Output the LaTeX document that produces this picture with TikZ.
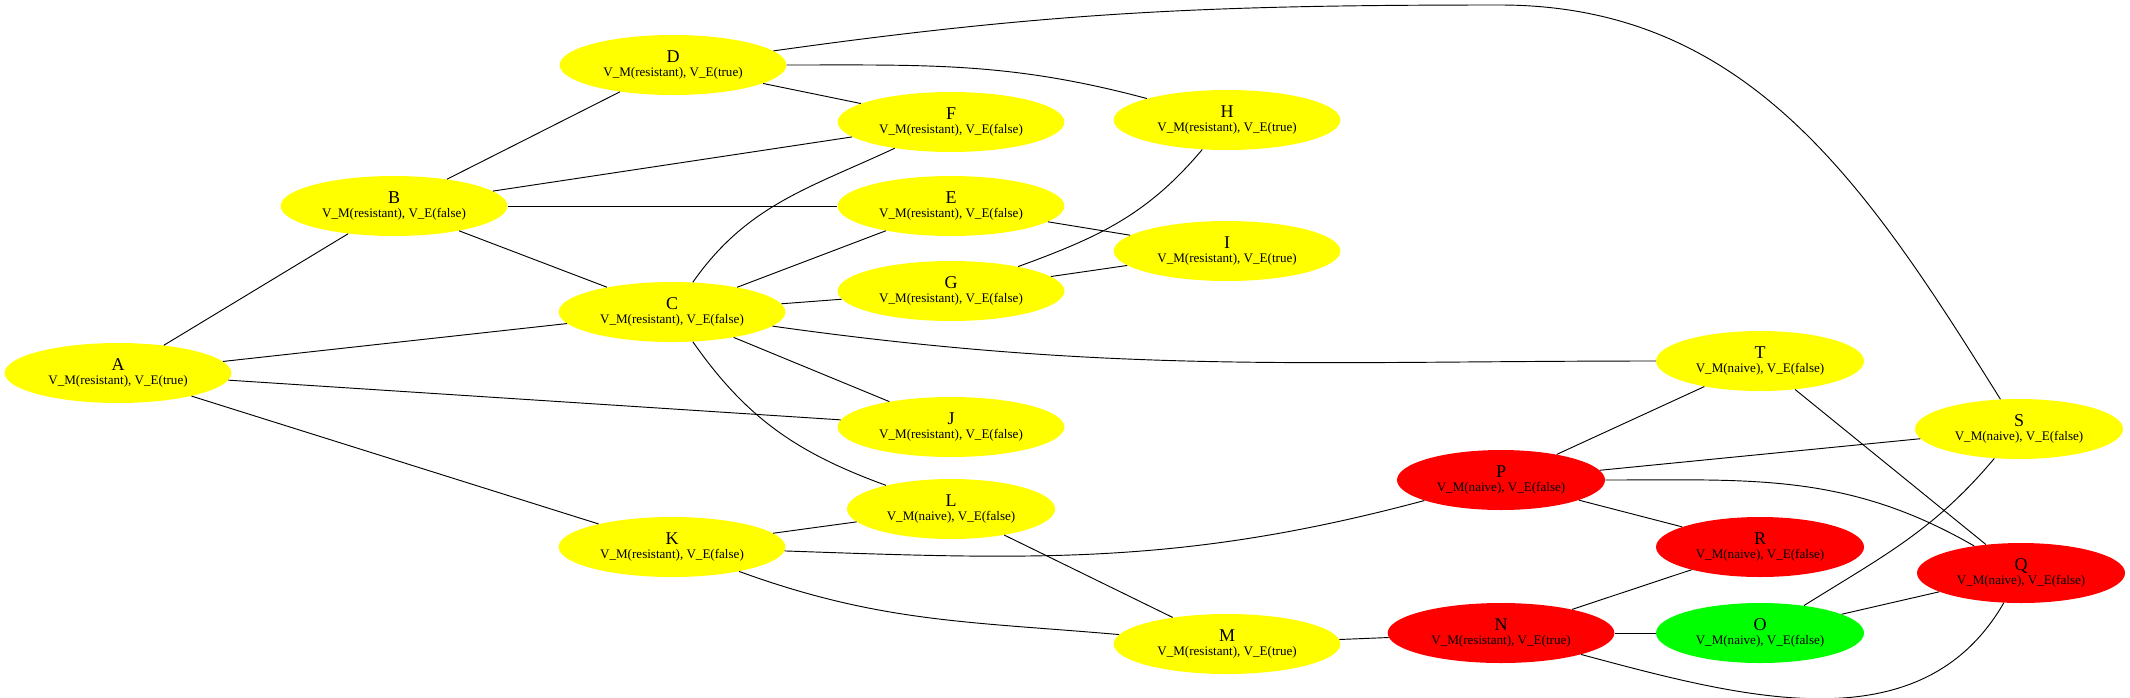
\documentclass[tikz,border=0pt]{standalone}
\usepackage{fontspec}
\setmainfont{Liberation Serif}
\usetikzlibrary{shapes.geometric}
\definecolor{gvyellow}{RGB}{255,255,0}
\definecolor{gvred}{RGB}{255,0,0}
\definecolor{gvgreen}{RGB}{0,255,0}
\newcommand{\statelbl}[3]{{\fontsize{13.5}{13.5}\selectfont #1}\\V\_M(#2), V\_E(#3)}

\begin{document}
\begin{tikzpicture}[x=0.75pt, y=-0.75pt,
mystate/.style={ellipse, draw=none, inner sep=0pt, minimum height=45pt, align=center, font=\fontsize{9.8}{10.5}\selectfont}, % my basic state style
res/.style={mystate, minimum width=170pt, fill=gvyellow}, % resistant states
nai/.style={mystate, minimum width=156pt, fill=gvyellow}, % naive states
resred/.style={res, fill=gvred}, % resistant, marked red
naired/.style={nai, fill=gvred}, % naive, marked red
naigreen/.style={nai, fill=gvgreen}, % naive, marked green
link/.style={line width=0.7pt}
]

\useasboundingbox (0,0) rectangle (2130,697);

\node[res] (A) at (118,373) {\statelbl{A}{resistant}{true}};
\node[res] (B) at (394,206) {\statelbl{B}{resistant}{false}};
\node[res] (C) at (672,312) {\statelbl{C}{resistant}{false}};
\node[res] (D) at (673,65) {\statelbl{D}{resistant}{true}};
\node[res] (E) at (951,206) {\statelbl{E}{resistant}{false}};
\node[res] (F) at (951,122) {\statelbl{F}{resistant}{false}};
\node[res] (G) at (951,291) {\statelbl{G}{resistant}{false}};
\node[res] (H) at (1227,120) {\statelbl{H}{resistant}{true}};
\node[res] (I) at (1227,251) {\statelbl{I}{resistant}{true}};
\node[res] (J) at (951,427) {\statelbl{J}{resistant}{false}};
\node[res] (K) at (672,547) {\statelbl{K}{resistant}{false}};
\node[nai] (L) at (951,509) {\statelbl{L}{naive}{false}};
\node[res] (M) at (1227,644) {\statelbl{M}{resistant}{true}};
\node[resred] (N) at (1501,633) {\statelbl{N}{resistant}{true}};
\node[naigreen] (O) at (1760,633) {\statelbl{O}{naive}{false}};
\node[naired] (P) at (1501,480) {\statelbl{P}{naive}{false}};
\node[naired] (Q) at (2021,573) {\statelbl{Q}{naive}{false}};
\node[naired] (R) at (1760,547) {\statelbl{R}{naive}{false}};
\node[nai] (S) at (2019,429) {\statelbl{S}{naive}{false}};
\node[nai] (T) at (1760,361) {\statelbl{T}{naive}{false}};
\coordinate (dsbend) at (1500,5);

\draw[link] (A) -- (B);
\draw[link] (A) -- (C);
\draw[link] (A) -- (J);
\draw[link] (A) -- (K);
\draw[link] (B) -- (D);
\draw[link] (B) -- (F);
\draw[link] (B) -- (E);
\draw[link] (B) -- (C);
\draw[link] (C) to[out=55, in=205] (F);
\draw[link] (C) -- (E);
\draw[link] (C) -- (G);
\draw[link] (C) -- (J);
\draw[link] (C) to[out=-55, in=160] (L);
\draw[link] (C) to[out=-8, in=180] (T);
\draw[link] (D) -- (F);
\draw[link] (D) to[out=0, in=165] (H);
\draw[link] (D) to[out=8, in=180] (dsbend) to[out=0, in=122] (S);
\draw[link] (E) -- (I);
\draw[link] (G) to[out=20, in=-130] (H);
\draw[link] (G) -- (I);
\draw[link] (K) -- (L);
\draw[link] (K) to[out=-2, in=195] (P);
\draw[link] (K) to[out=-20, in=175] (M);
\draw[link] (L) -- (M);
\draw[link] (M) -- (N);
\draw[link] (N) -- (R);
\draw[link] (N) -- (O);
\draw[link] (N) to[out=-15, in=-120] (Q);
\draw[link] (O) to[out=32, in=-130] (S);
\draw[link] (O) -- (Q);
\draw[link] (P) -- (T);
\draw[link] (P) -- (S);
\draw[link] (P) -- (R);
\draw[link] (P) to[out=0, in=150] (Q);
\draw[link] (T) -- (Q);

\end{tikzpicture}
\end{document}
